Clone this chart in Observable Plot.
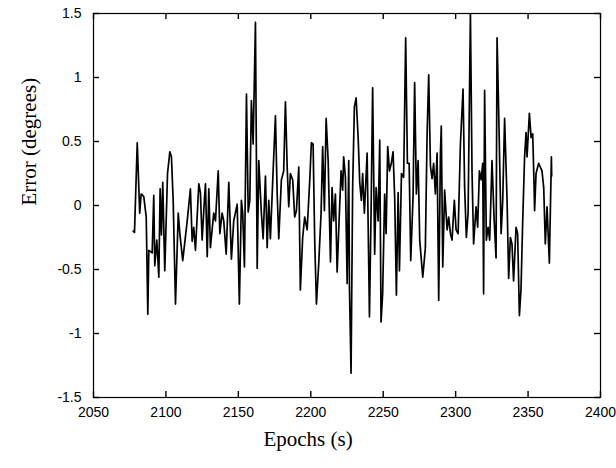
<!DOCTYPE html>
<html>
<head>
<meta charset="utf-8">
<script src="https://cdn.jsdelivr.net/npm/d3@7"></script>
<script src="https://cdn.jsdelivr.net/npm/@observablehq/plot@0.6"></script>
<style>
  html, body { margin: 0; padding: 0; background: #fff; }
  #chart svg { display: block; }
</style>
</head>
<body>
<div id="chart"></div>
<script>
const epochs = [
  2077.4, 2078.3, 2080.2, 2081.9, 2082.9, 2084.7, 2086.4, 2087.5, 2088.2, 2090.5,
  2091.6, 2092.3, 2093.7, 2095.1, 2096.0, 2096.9, 2097.8, 2099.2, 2101.1, 2102.7,
  2103.8, 2105.0, 2106.6, 2108.5, 2109.6, 2111.6, 2114.7, 2116.9, 2118.1, 2119.2,
  2120.4, 2122.7, 2123.8, 2125.0, 2126.6,
  2127.3, 2128.5, 2129.6, 2130.7, 2133.0, 2134.2, 2136.1, 2137.2, 2138.8, 2139.9,
  2141.6, 2143.4, 2145.2, 2146.8, 2149.2, 2150.7, 2152.1, 2153.0, 2154.2, 2155.6,
  2156.8, 2157.9, 2159.0, 2160.2, 2161.8, 2163.0, 2164.1, 2165.9, 2167.1, 2168.7,
  2169.9, 2171.0, 2172.1, 2174.0, 2175.6, 2176.8, 2177.9, 2179.7, 2181.3, 2182.5,
  2183.7, 2184.8, 2185.9, 2187.5, 2188.9, 2190.1, 2191.7, 2192.8, 2194.4, 2195.8,
  2197.5, 2199.3, 2200.4, 2201.6, 2202.7, 2203.9, 2205.5, 2207.1, 2208.2, 2209.4,
  2210.6,
  2212.0, 2213.6, 2214.7, 2215.8, 2217.0, 2218.2, 2219.3, 2220.9, 2222.0, 2222.7,
  2223.9, 2225.1, 2226.2, 2226.7, 2227.8, 2228.9, 2230.1, 2231.3, 2232.7, 2233.8,
  2234.9, 2235.8, 2237.0, 2238.9, 2240.5, 2241.6, 2242.7, 2244.1, 2245.1, 2246.5,
  2247.6, 2248.5, 2249.6, 2251.0, 2252.0, 2253.1, 2254.3, 2255.6, 2256.8, 2257.9,
  2259.1, 2260.3, 2261.2, 2262.6, 2264.1, 2265.5, 2266.7, 2267.9, 2269.0, 2270.6,
  2271.7, 2272.9, 2274.1, 2275.2, 2277.3, 2279.1, 2280.3, 2281.4, 2282.6, 2283.7,
  2284.8, 2286.0, 2287.2, 2288.3, 2289.5, 2290.1, 2291.1, 2292.4,
  2294.1, 2295.2, 2296.4, 2297.5, 2299.1, 2300.3, 2301.7, 2303.3, 2305.1, 2306.2,
  2307.4, 2308.6, 2310.2, 2311.3, 2312.4, 2314.1, 2315.2, 2316.4, 2317.6, 2318.7,
  2319.3, 2320.0, 2321.2, 2322.4, 2323.5, 2325.1, 2326.5, 2327.9, 2328.6, 2329.7,
  2331.4, 2332.5, 2333.8, 2335.5, 2336.6, 2337.8, 2338.9, 2340.0, 2341.7, 2342.8,
  2344.0, 2345.1, 2346.3, 2347.6, 2348.6, 2349.3, 2350.9, 2352.1, 2353.2, 2354.1,
  2354.5, 2355.5, 2357.3, 2359.6, 2360.8, 2361.9, 2363.1, 2364.7, 2366.1, 2366.3
];

const errors = [
  -0.20, -0.21, 0.49, -0.06, 0.09, 0.07, -0.09, -0.85, -0.35, -0.37,
  0.08, -0.47, -0.27, -0.56, 0.13, -0.23, 0.18, -0.51, 0.25, 0.42,
  0.38, 0.04, -0.77, -0.06, -0.22, -0.43, -0.12, 0.13, -0.28, -0.17,
  -0.35, 0.17, 0.10, -0.27, 0.05,
  0.17, -0.40, 0.13, -0.33, -0.06, -0.12, 0.27, -0.22, -0.06, -0.12,
  -0.38, 0.18, -0.42, -0.12, 0.01, -0.77, 0.04, -0.06, -0.48, 0.87,
  -0.05, 0.04, 0.82, 0.48, 1.43, -0.49, 0.35, -0.06, -0.26, 0.23,
  -0.33, 0.04, -0.26, 0.27, 0.70, 0.09, -0.26, 0.20, 0.27, 0.81,
  0.30, -0.01, 0.25, 0.20, -0.09, -0.04, 0.30, -0.66, -0.25, -0.09,
  -0.19, 0.20, 0.49, 0.48, -0.27, -0.77, -0.45, -0.06, 0.46, -0.04,
  0.68,
  0.35, -0.44, 0.14, -0.12, 0.09, -0.52, -0.19, 0.27, 0.12, 0.38,
  0.22, -0.61, 0.35, -0.64, -1.31, 0.14, 0.77, 0.84, 0.53, 0.18,
  0.04, 0.25, -0.06, 0.41, -0.87, -0.06, 0.92, -0.38, 0.14, -0.12,
  0.51, -0.91, -0.69, 0.09, -0.22, 0.46, 0.27, 0.33, 0.42, 0.07,
  -0.70, 0.10, -0.51, 0.25, 0.22, 1.31, 0.33, 0.33, -0.43, 0.07,
  0.96, 0.09, 0.35, -0.27, -0.56, -0.33, 0.56, 1.02, 0.31, 0.21,
  0.33, 0.09, 0.41, -0.74, 0.41, 0.62, -0.48, 0.12,
  -0.19, -0.09, -0.22, -0.27, 0.04, -0.19, -0.22, 0.48, 0.91, 0.14,
  -0.25, -0.06, 1.50, 0.27, -0.30, -0.01, -0.17, 0.27, 0.20, 0.33,
  -0.69, 0.90, -0.27, -0.17, -0.27, 0.35, -0.09, -0.41, 1.31, 0.74,
  -0.22, 0.04, 0.68, 0.04, -0.57, -0.25, -0.30, -0.59, -0.17, -0.22,
  -0.86, -0.66, -0.12, 0.38, 0.57, 0.38, 0.72, 0.53, 0.56, 0.18,
  -0.04, 0.25, 0.33, 0.27, 0.14, -0.30, -0.01, -0.45, 0.38, 0.23
];

const xTicks = [2050, 2100, 2150, 2200, 2250, 2300, 2350, 2400];
const yTicks = [-1.5, -1, -0.5, 0, 0.5, 1, 1.5];
const yTickLabels = ["-1.5", "-1", "-0.5", "0", "0.5", "1", "1.5"];
const xLabel = "Epochs (s)";
const yLabel = "Error (degrees)";

const table = epochs.map((e, i) => ({epoch: e, error: errors[i]}));

const W = 616, H = 468, mL = 93, mR = 16, mT = 13, mB = 71;
const innerW = W - mL - mR, innerH = H - mT - mB, tick = 6;

const sans = "'Liberation Sans', Arial, Helvetica, sans-serif";
const serif = "'Liberation Serif', 'Times New Roman', serif";

const chart = Plot.plot({
  width: W,
  height: H,
  marginLeft: mL,
  marginRight: mR,
  marginTop: mT,
  marginBottom: mB,
  style: {background: "#fff", color: "#000"},
  x: {domain: [2050, 2400]},
  y: {domain: [-1.5, 1.5]},
  marks: [
    Plot.line(table, {x: "epoch", y: "error", stroke: "#000", strokeWidth: 1.7, clip: true}),
    Plot.frame({stroke: "#000", strokeWidth: 1.2}),
    // inward tick marks on all four sides
    Plot.ruleX(xTicks, {x: d => d, insetTop: innerH - tick, stroke: "#000", strokeWidth: 1.4}),
    Plot.ruleX(xTicks, {x: d => d, insetBottom: innerH - tick, stroke: "#000", strokeWidth: 1.4}),
    Plot.ruleY(yTicks, {y: d => d, insetRight: innerW - tick, stroke: "#000", strokeWidth: 1.4}),
    Plot.ruleY(yTicks, {y: d => d, insetLeft: innerW - tick, stroke: "#000", strokeWidth: 1.4}),
    // tick labels
    Plot.axisX(xTicks, {anchor: "bottom", tickSize: 0, tickPadding: 10, fontSize: 14, fontFamily: sans, fill: "#000", label: null, tickFormat: d => String(d)}),
    Plot.axisY(yTicks, {anchor: "left", tickSize: 0, tickPadding: 12, fontSize: 14, fontFamily: sans, fill: "#000", label: null, tickFormat: d => yTickLabels[yTicks.indexOf(d)]}),
    // axis titles
    Plot.text([yLabel], {frameAnchor: "left", dx: -64, rotate: -90, fontSize: 21, fontFamily: serif, fill: "#000"}),
    Plot.text([xLabel], {frameAnchor: "bottom", dx: -39, dy: 48, fontSize: 21, fontFamily: serif, fill: "#000"})
  ]
});
document.getElementById("chart").appendChild(chart);
</script>
</body>
</html>
